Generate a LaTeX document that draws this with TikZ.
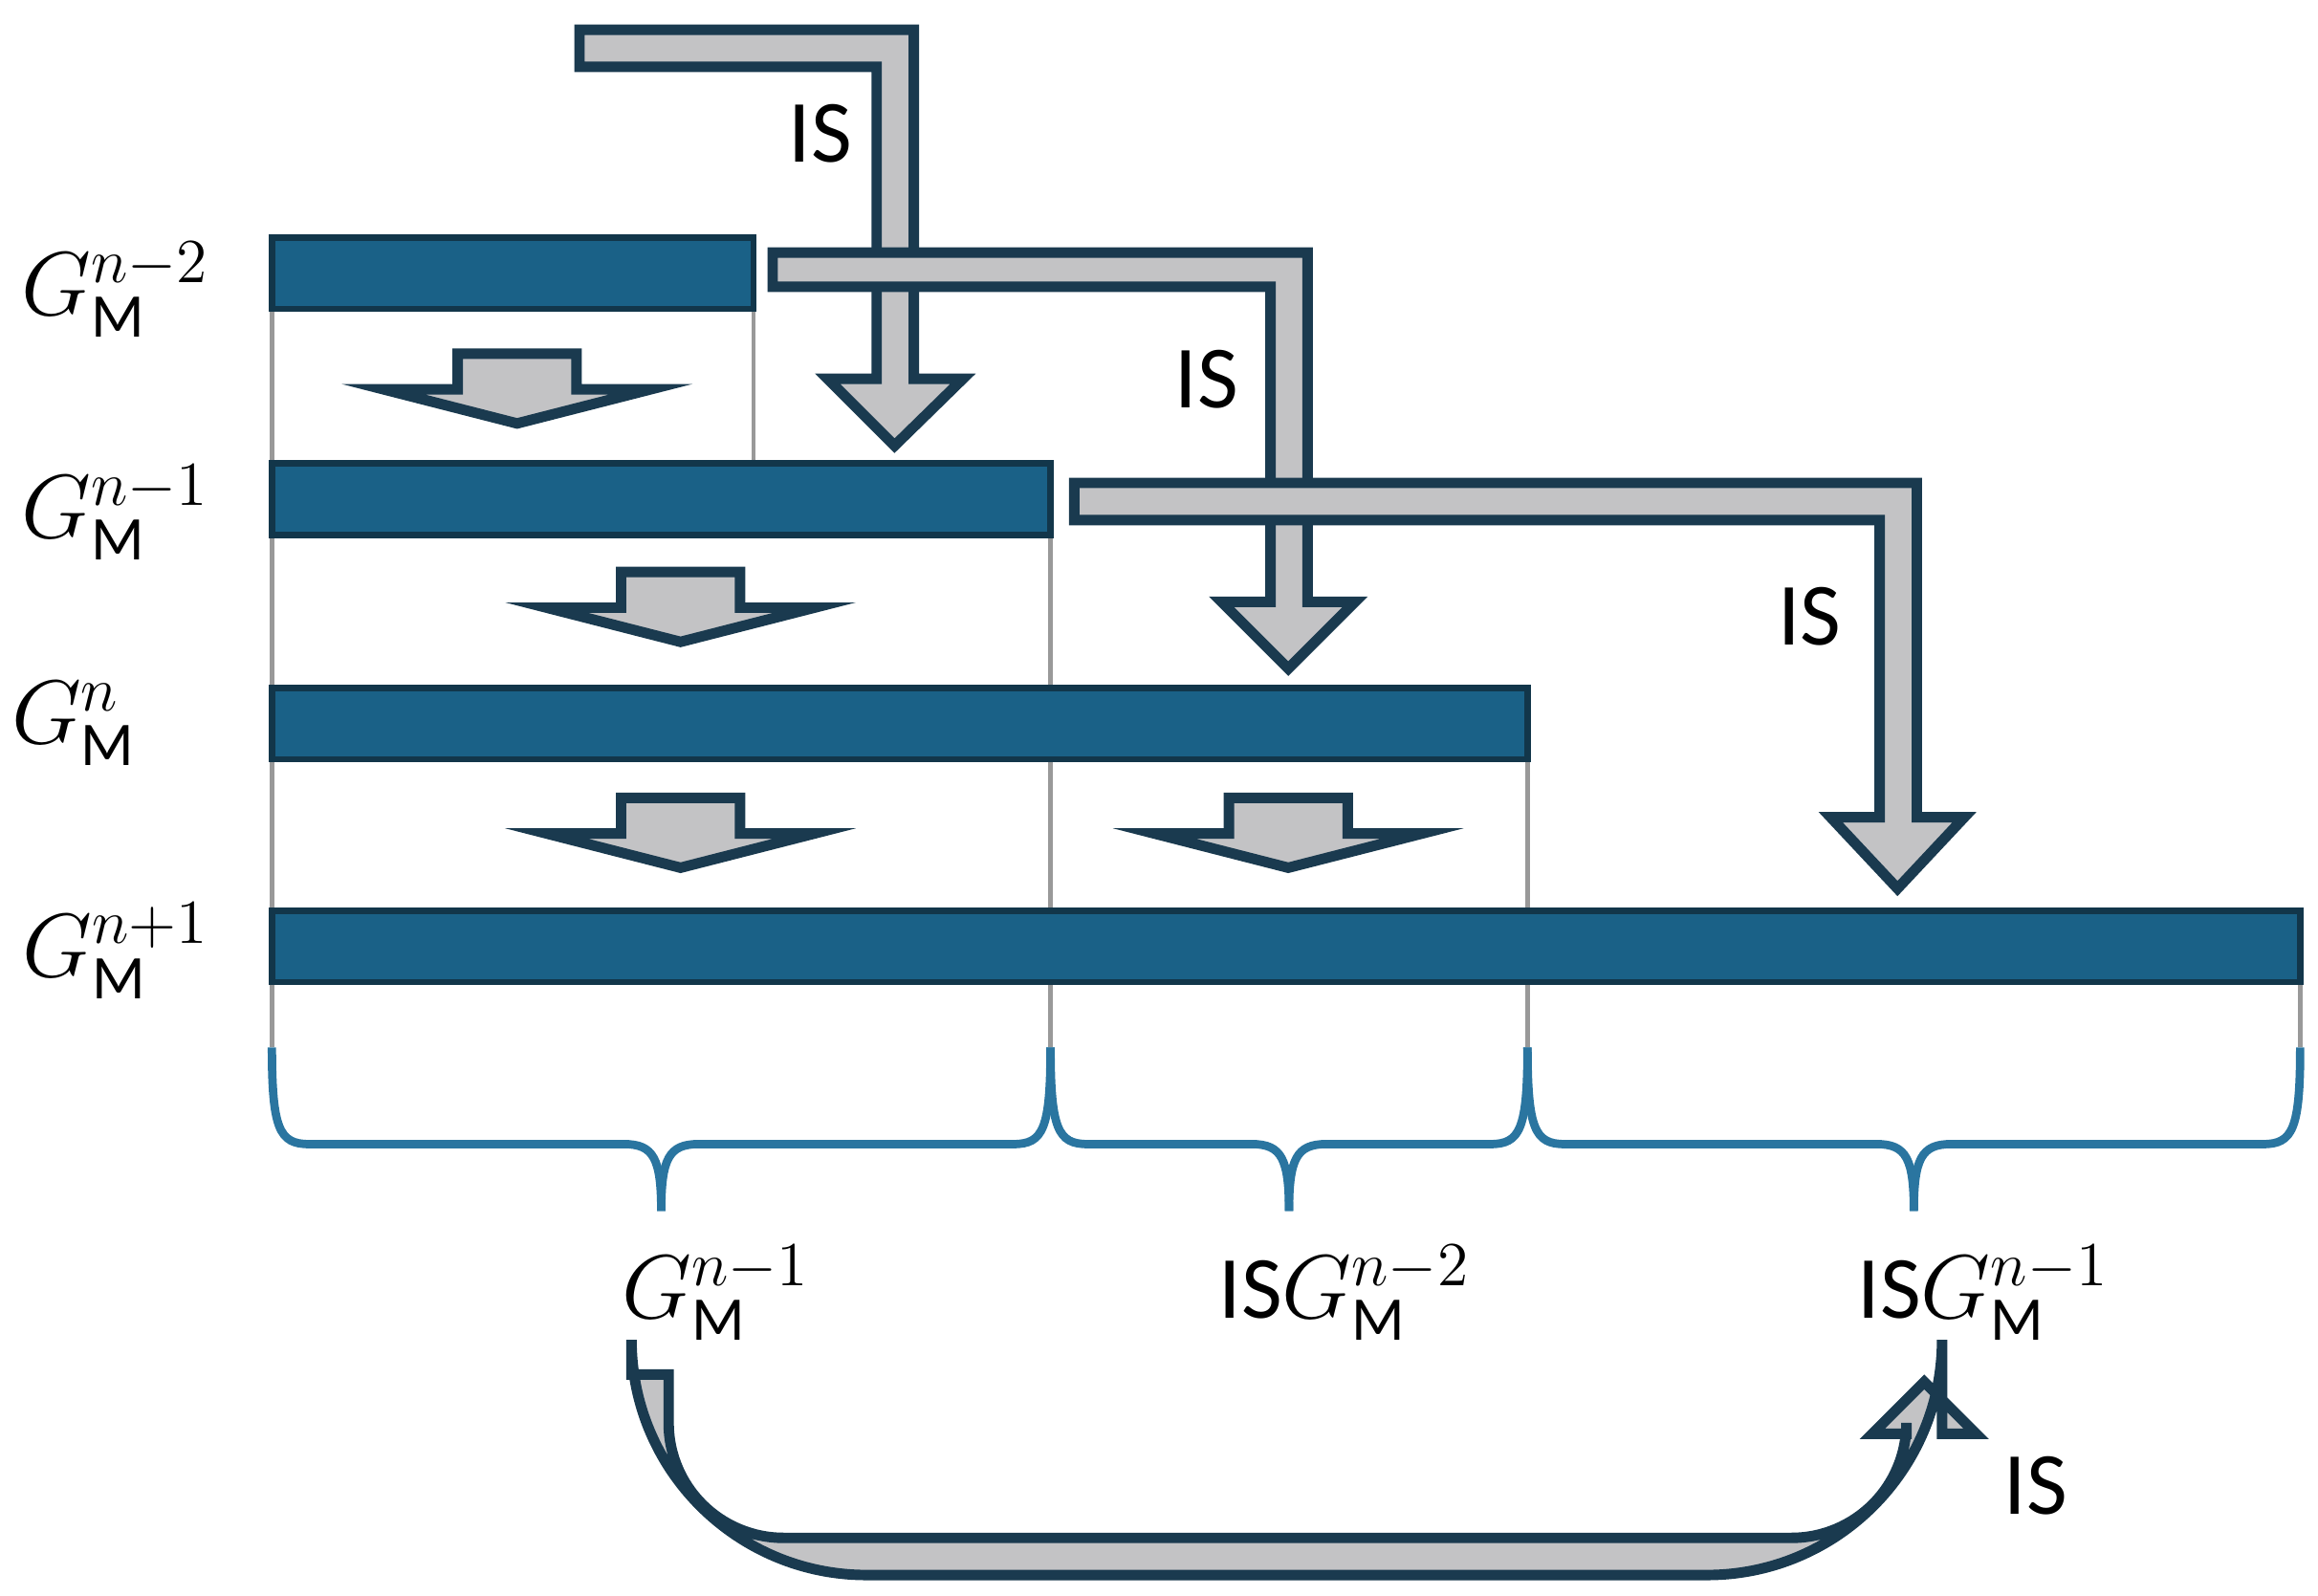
\documentclass[tikz,border=0pt]{standalone}
\usepackage{fontspec}
\setmainfont{Carlito}
\definecolor{barblue}{HTML}{1A6187}
\definecolor{bardark}{HTML}{12364A}
\definecolor{arrgrey}{HTML}{C3C3C5}
\definecolor{arrline}{HTML}{1A3A4F}
\definecolor{bracecol}{HTML}{2A75A0}
\newcommand\brc[2]{% brace from #1 to #2
  \draw[brace] (#1,705) .. controls (#1,760) and (#1+5,770) .. (#1+25,770)
    -- ({(#1+#2)/2-25},770) .. controls ({(#1+#2)/2-5},770) and ({(#1+#2)/2},780) .. ({(#1+#2)/2},815);
  \draw[brace] (#2,705) .. controls (#2,760) and (#2-5,770) .. (#2-25,770)
    -- ({(#1+#2)/2+25},770) .. controls ({(#1+#2)/2+5},770) and ({(#1+#2)/2},780) .. ({(#1+#2)/2},815);}
\newcommand\smallarr[2]{% small down arrow, centre and top
  \draw[blockarr] (#1-40,#2) -- (#1+40,#2) -- (#1+40,#2+24) -- (#1+90,#2+24)
    -- (#1,#2+47) -- (#1-90,#2+24) -- (#1-40,#2+24) -- cycle;}
\begin{document}
\begin{tikzpicture}[x=0.01cm,y=-0.01cm,
    bar/.style={draw=bardark,fill=barblue,line width=1.2pt},
    guide/.style={draw=gray!80,line width=0.8pt},
    brace/.style={draw=bracecol,line width=1.6pt},
    blockarr/.style={draw=arrline,fill=arrgrey,line width=2pt,line join=miter},
    lab/.style={font=\fontsize{17}{20}\selectfont,inner sep=1pt}]
    \useasboundingbox (0,0) rectangle (1560,1074);
    % guide lines
    \draw[guide] (183,208) -- (183,705);
    \draw[guide] (507,208) -- (507,312);
    \draw[guide] (707,360) -- (707,705);
    \draw[guide] (1028,511) -- (1028,705);
    \draw[guide] (1548,661) -- (1548,705);

    % bars
    \draw[bar] (183,160) rectangle (507,208);
    \draw[bar] (183,312) rectangle (707,360);
    \draw[bar] (183,463) rectangle (1028,511);
    \draw[bar] (183,613) rectangle (1548,661);

    % generation labels
    \node[lab] (g2) at (78,195) {$G_{\mathrm{M}}^{n-2}$};
    \node[lab] (g1) at (78,345) {$G_{\mathrm{M}}^{n-1}$};
    \node[lab] (g0) at (50,487) {$G_{\mathrm{M}}^{n}$};
    \node[lab] (gp) at (78,640) {$G_{\mathrm{M}}^{n+1}$};

    % small arrows
    \smallarr{348}{238}
    \smallarr{458}{385}
    \smallarr{458}{537}
    \smallarr{867}{537}

    % IS arrows
    \draw[blockarr] (390,20) -- (615,20) -- (615,255) -- (648,255) -- (602,300)
      -- (557,255) -- (590,255) -- (590,45) -- (390,45) -- cycle;
    \draw[blockarr] (520,170) -- (880,170) -- (880,405) -- (912,405) -- (867,450)
      -- (822,405) -- (855,405) -- (855,193) -- (520,193) -- cycle;
    \draw[blockarr] (723,325) -- (1290,325) -- (1290,550) -- (1322,550) -- (1277,598)
      -- (1232,550) -- (1265,550) -- (1265,350) -- (723,350) -- cycle;
    \node[lab] (is1) at (552,90) {IS};
    \node[lab] (is2) at (812,255) {IS};
    \node[lab] (is3) at (1218,415) {IS};

    % braces
    \brc{183}{707}
    \brc{707}{1028}
    \brc{1028}{1548}
    \node[lab] (b1) at (482,870) {$G_{\mathrm{M}}^{n-1}$};
    \node[lab] (b2) at (905,870) {IS$G_{\mathrm{M}}^{n-2}$};
    \node[lab] (b3) at (1335,870) {IS$G_{\mathrm{M}}^{n-1}$};

    % return arrow
    \draw[blockarr] (425,925) [rounded corners=45] -- (425,1060) -- (1307,1060)
      [sharp corners] -- (1307,965) -- (1330,965) -- (1295,930) -- (1260,965)
      -- (1283,965) [rounded corners=22] -- (1283,1035) -- (450,1035)
      [sharp corners] -- (450,925) -- cycle;
    \node[lab] (is4) at (1370,1000) {IS};
\end{tikzpicture}
\end{document}
